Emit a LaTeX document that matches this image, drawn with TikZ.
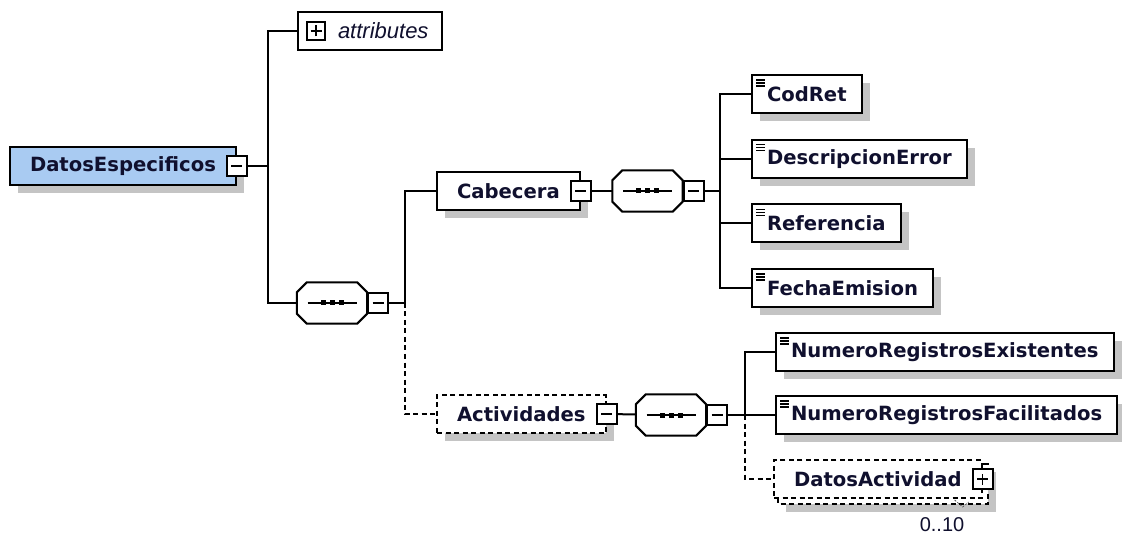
\documentclass[tikz,border=0pt]{standalone}
\usepackage{fontspec}
\newfontfamily\namefam{DejaVu Sans}
\newfontfamily\attrfam{Liberation Sans}
\definecolor{specblue}{HTML}{A9CBF2}
\definecolor{shadowgray}{HTML}{C4C4C4}
\definecolor{inkblue}{HTML}{10102E}
\usetikzlibrary{shadows}
\usetikzlibrary{backgrounds}
\tikzstyle{link} = [line width=2pt]
\tikzstyle{optional} = [dash pattern=on 5pt off 3.5pt]
\tikzstyle{shade} = [general shadow={fill=shadowgray, shadow xshift=8pt, shadow yshift=-8pt}]
\tikzstyle{elembase} = [draw, line width=2pt, fill=white, minimum height=38pt, inner xsep=20pt, inner ysep=0pt, text=inkblue, font=\namefam\bfseries\fontsize{19.6}{23}\selectfont]
\tikzstyle{elem} = [elembase, shade]
\tikzstyle{leaf} = [elem, inner xsep=15pt, path picture={
    \foreach \d in {5,8,11}
      \draw[line width=1.4pt] ([shift={(4,\d)}]path picture bounding box.north west) -- ++(9,0);}]
\tikzstyle{attrbox} = [draw, line width=2pt, fill=white, minimum height=38pt, inner xsep=14pt, inner ysep=0pt, text=inkblue, font=\attrfam\itshape\fontsize{22}{26}\selectfont]
\tikzstyle{seqbox} = [rectangle, minimum width=70pt, minimum height=41pt, inner sep=0pt]
\tikzstyle{toggle} = [draw, fill=white, line width=1.8pt, minimum size=20pt, inner sep=0pt]
\tikzstyle{collapse} = [toggle, path picture={
    \draw[line width=1.6pt] ([xshift=-5.5pt]path picture bounding box.center) -- ([xshift=5.5pt]path picture bounding box.center);}]
\tikzstyle{expand} = [toggle, path picture={
    \draw[line width=1.6pt] ([xshift=-5.5pt]path picture bounding box.center) -- ([xshift=5.5pt]path picture bounding box.center);
    \draw[line width=1.6pt] ([yshift=-5.5pt]path picture bounding box.center) -- ([yshift=5.5pt]path picture bounding box.center);}]
\tikzstyle{occurs} = [inner sep=0pt, text=inkblue, font=\attrfam\fontsize{20}{24}\selectfont]

\begin{document}
\begin{tikzpicture}[x=1pt, y=-1pt]
\begin{scope}[on background layer]
  \fill[white] (0,0) rectangle (1122,537);
\end{scope}
\useasboundingbox (0,0) rectangle (1122,537);

% root element
\node[elem, fill=specblue, anchor=west] (spec) at (9,166) {DatosEspecificos};
\node[collapse] (spec-x) at (spec.east) {};

% attributes
\node[attrbox, anchor=west] (attr) at (297,31) {\hspace*{26pt}attributes};
\node[expand, minimum size=18pt] (attr-x) at (316,31) {};

% sequence of the root
\node[seqbox] (seq1) at (332,303) {};
\node[collapse, anchor=west] (seq1-x) at (seq1.east) {};

% Cabecera
\node[elem, anchor=west] (cab) at (436,191) {Cabecera};
\node[collapse] (cab-x) at (cab.east) {};
\node[seqbox] (seq2) at (647.5,191) {};
\node[collapse, anchor=west] (seq2-x) at (seq2.east) {};

\node[leaf, anchor=west] (codret) at (751,94) {CodRet};
\node[leaf, anchor=west] (descerr) at (751,158.7) {DescripcionError};
\node[leaf, anchor=west] (ref) at (751,223.3) {Referencia};
\node[leaf, anchor=west] (fecha) at (751,288) {FechaEmision};

% Actividades
\node[elem, optional, anchor=west] (act) at (436,414) {Actividades};
\node[collapse] (act-x) at (act.east) {};
\node[seqbox] (seq3) at (671,415) {};
\node[collapse, anchor=west] (seq3-x) at (seq3.east) {};

\node[leaf, anchor=west] (nre) at (775,352) {NumeroRegistrosExistentes};
\node[leaf, anchor=west] (nrf) at (775,415) {NumeroRegistrosFacilitados};

% DatosActividad, 0..10
\node[elembase, optional, anchor=west] (da) at (773,479) {DatosActividad};
\node[expand] (da-x) at (da.east) {};
\node[occurs] (da-n) at (942,525) {0..10};
\draw[line width=0.8pt, gray!70!black, dash pattern=on 2pt off 1.5pt] ([shift={(-28,1)}]da.south east) -- ++(8,7) -- ++(6,-5);

% sequence octagons and the back copy of DatosActividad
\begin{scope}[on background layer]
  \foreach \s in {seq1,seq2,seq3} {
    \fill[shadowgray, shift={(8,8)}] ([shift={(10,0)}]\s.north west) -- ([shift={(-10,0)}]\s.north east)
      -- ([shift={(0,10)}]\s.north east) -- ([shift={(0,-10)}]\s.south east) -- ([shift={(-10,0)}]\s.south east)
      -- ([shift={(10,0)}]\s.south west) -- ([shift={(0,-10)}]\s.south west) -- ([shift={(0,10)}]\s.north west) -- cycle;
    \draw[link, fill=white] ([shift={(10,0)}]\s.north west) -- ([shift={(-10,0)}]\s.north east)
      -- ([shift={(0,10)}]\s.north east) -- ([shift={(0,-10)}]\s.south east) -- ([shift={(-10,0)}]\s.south east)
      -- ([shift={(10,0)}]\s.south west) -- ([shift={(0,-10)}]\s.south west) -- ([shift={(0,10)}]\s.north west) -- cycle;
    \draw[line width=1.5pt] ([shift={(-24.5,0)}]\s.center) -- ([shift={(24.5,0)}]\s.center);
    \foreach \dx in {-9,0,9}
      \fill[black] ([shift={(\dx-2.5,-2.5)}]\s.center) rectangle ++(5,5);
  }
  \fill[shadowgray] ([shift={(13,13)}]da.north west) rectangle ([shift={(13,13)}]da.south east);
  \draw[link, optional, fill=white] ([shift={(5,5)}]da.north west) rectangle ([shift={(5,5)}]da.south east);
\end{scope}

% connectors
\coordinate (j1) at (268,166);
\coordinate (j2) at (405,303);
\coordinate (j3) at (720,191);
\coordinate (j4) at (745,415);
\draw[link] (spec-x) -- (j1);
\draw[link] (attr.west) -| (j1) |- (seq1.west);
\draw[link] (seq1-x) -- (j2) |- (cab.west);
\draw[link, optional] (j2) |- (act.west);
\draw[link] (cab-x) -- (seq2);
\draw[link] (seq2-x) -- (j3);
\foreach \n in {codret,descerr,ref,fecha}
  \draw[link] (j3) |- (\n.west);
\draw[link] (act-x) -- (seq3);
\draw[link] (seq3-x) -- (j4);
\draw[link] (j4) |- (nre.west);
\draw[link] (j4) -- (nrf.west);
\draw[link, optional] (j4) |- (da.west);

\end{tikzpicture}
\end{document}
